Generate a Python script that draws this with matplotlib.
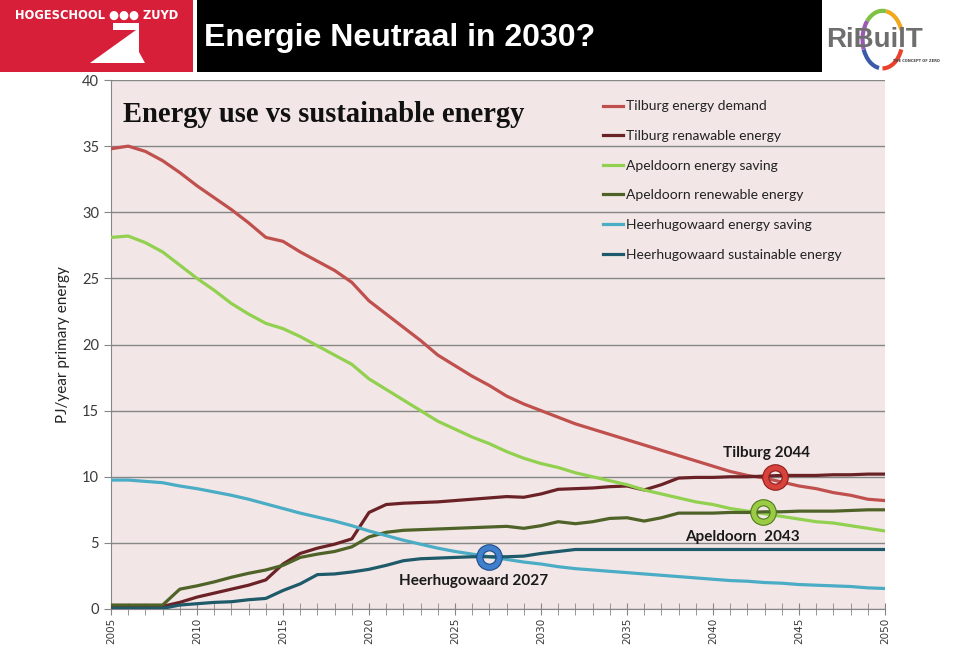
"""Energie Neutraal in 2030? - energy use vs sustainable energy (Tilburg, Apeldoorn, Heerhugowaard)."""

import matplotlib
matplotlib.use("Agg")
import matplotlib.pyplot as plt
from matplotlib.patches import Rectangle, Polygon, Arc

# ---- data (PJ/year primary energy), 2005..2050 ----
years = list(range(2005, 2051))

tilburg_demand = [34.8, 35.0, 34.6, 33.9, 33.0, 32.0, 31.1, 30.2, 29.2, 28.1,
                  27.8, 27.0, 26.3, 25.6, 24.7, 23.3, 22.3, 21.3, 20.3, 19.2,
                  18.4, 17.6, 16.9, 16.1, 15.5, 15.0, 14.5, 14.0, 13.6, 13.2,
                  12.8, 12.4, 12.0, 11.6, 11.2, 10.8, 10.4, 10.1, 9.9, 9.6,
                  9.3, 9.1, 8.8, 8.6, 8.3, 8.2]
tilburg_renewable = [0.15, 0.15, 0.15, 0.2, 0.5, 0.9, 1.2, 1.5, 1.8, 2.2,
                     3.4, 4.2, 4.6, 4.9, 5.3, 7.3, 7.9, 8.0, 8.05, 8.1,
                     8.2, 8.3, 8.4, 8.5, 8.45, 8.7, 9.05, 9.1, 9.15, 9.25,
                     9.3, 9.0, 9.4, 9.9, 9.95, 9.95, 10.0, 10.0, 10.05, 10.1,
                     10.1, 10.1, 10.15, 10.15, 10.2, 10.2]
apeldoorn_saving = [28.1, 28.2, 27.7, 27.0, 26.0, 25.0, 24.1, 23.1, 22.3, 21.6,
                    21.2, 20.6, 19.9, 19.2, 18.5, 17.4, 16.6, 15.8, 15.0, 14.2,
                    13.6, 13.0, 12.5, 11.9, 11.4, 11.0, 10.7, 10.3, 10.0, 9.7,
                    9.4, 9.0, 8.7, 8.4, 8.1, 7.9, 7.6, 7.4, 7.2, 7.0,
                    6.8, 6.6, 6.5, 6.3, 6.1, 5.9]
apeldoorn_renewable = [0.3, 0.3, 0.3, 0.3, 1.5, 1.75, 2.05, 2.4, 2.7, 2.95,
                       3.3, 3.9, 4.15, 4.35, 4.7, 5.45, 5.8, 5.95, 6.0, 6.05,
                       6.1, 6.15, 6.2, 6.25, 6.1, 6.3, 6.6, 6.45, 6.6, 6.85,
                       6.9, 6.65, 6.9, 7.25, 7.25, 7.25, 7.3, 7.3, 7.35, 7.35,
                       7.4, 7.4, 7.4, 7.45, 7.5, 7.5]
heerhugowaard_saving = [9.75, 9.75, 9.65, 9.55, 9.3, 9.1, 8.85, 8.6, 8.3, 7.95,
                        7.6, 7.25, 6.95, 6.65, 6.3, 5.9, 5.55, 5.2, 4.9, 4.6,
                        4.35, 4.15, 3.95, 3.75, 3.55, 3.4, 3.2, 3.05, 2.95, 2.85,
                        2.75, 2.65, 2.55, 2.45, 2.35, 2.25, 2.15, 2.1, 2.0, 1.95,
                        1.85, 1.8, 1.75, 1.7, 1.6, 1.55]
heerhugowaard_sustainable = [0.05, 0.05, 0.05, 0.05, 0.3, 0.4, 0.5, 0.55, 0.7, 0.8,
                             1.4, 1.9, 2.6, 2.65, 2.8, 3.0, 3.3, 3.65, 3.8, 3.85,
                             3.9, 3.95, 3.95, 3.95, 4.0, 4.2, 4.35, 4.5, 4.5, 4.5,
                             4.5, 4.5, 4.5, 4.5, 4.5, 4.5, 4.5, 4.5, 4.5, 4.5,
                             4.5, 4.5, 4.5, 4.5, 4.5, 4.5]

series_labels = ["Tilburg energy demand", "Tilburg renawable energy",
                 "Apeldoorn energy saving", "Apeldoorn renewable energy",
                 "Heerhugowaard energy saving", "Heerhugowaard sustainable energy"]
series_colors = ["#C0504D", "#6B2226", "#92D050", "#4F6228", "#4BACC6", "#1F5A6B"]

# break-even points: label, x, y
crossings = [("Tilburg 2044", 2043.6, 10.0), ("Apeldoorn  2043", 2042.9, 7.3),
             ("Heerhugowaard 2027", 2027.0, 3.95)]
ring_colors = [("#D8423C", "#8E1E1A"), ("#9BCB45", "#4E7A1A"), ("#3F7FCB", "#1D4C8A")]
crossing_label_pos = [(2043.1, 11.8), (2041.7, 5.45), (2026.1, 2.1)]

W, H = 960, 654


def fx(px):
    return px / W


def fy(py):
    return 1 - py / H


fig = plt.figure(figsize=(W / 100, H / 100), dpi=100)
fig.patch.set_facecolor("white")

# ---- header ----
fig.patches.append(Rectangle((0, fy(72)), fx(193), 72 / H, transform=fig.transFigure,
                             facecolor="#D71F3A", edgecolor="none"))
fig.patches.append(Rectangle((fx(197), fy(72)), fx(822 - 197), 72 / H, transform=fig.transFigure,
                             facecolor="black", edgecolor="none"))
fig.text(fx(15), fy(15), "HOGESCHOOL ●●● ZUYD", color="white", fontsize=8.3,
         fontweight="bold", family=["DejaVu Sans"], va="center", ha="left")
zpts = [(113, 23), (139, 23), (139, 52), (145, 63), (90, 63), (136, 30), (113, 30)]
fig.patches.append(Polygon([(fx(a), fy(b)) for a, b in zpts], closed=True,
                           transform=fig.transFigure, facecolor="white", edgecolor="none"))
fig.text(fx(204), fy(38), "Energie Neutraal in 2030?", color="white", fontsize=23,
         fontweight="bold", family="Liberation Sans", va="center", ha="left")

# RiBuilT logo (rough)
fig.text(fx(826), fy(40), "RiBuilT", color="#6E6E6E", fontsize=20, fontweight="bold",
         family="Liberation Sans", va="center", ha="left")
fig.text(fx(893), fy(61), "THE CONCEPT OF ZERO", color="#444444", fontsize=2.6,
         fontweight="bold", va="center", ha="left")
logo_ax = fig.add_axes([fx(855), fy(72), fx(50), 72 / H])
logo_ax.set_xlim(0, 1)
logo_ax.set_ylim(0, 1)
logo_ax.axis("off")
for th1, th2, col in [(20, 80, "#F2A81D"), (80, 140, "#7DC242"), (200, 260, "#3B5BA9"),
                      (270, 340, "#E8412C"), (140, 200, "#9B59B6")]:
    logo_ax.add_patch(Arc((0.55, 0.45), 0.8, 0.8, theta1=th1, theta2=th2, color=col, lw=3))

# ---- chart ----
ax = fig.add_axes([fx(111), fy(609), fx(885 - 111), (609 - 80) / H])
ax.set_facecolor("#F2E7E6")

all_series = [tilburg_demand, tilburg_renewable, apeldoorn_saving, apeldoorn_renewable,
              heerhugowaard_saving, heerhugowaard_sustainable]
for vals, lab, col in zip(all_series, series_labels, series_colors):
    ax.plot(years, vals, color=col, lw=2.3, label=lab, solid_joinstyle="round", zorder=3)

for (lab, cx, cy), (light, dark), (lx, ly) in zip(crossings, ring_colors, crossing_label_pos):
    ax.plot([cx], [cy], "o", ms=14, mfc="none", mec=dark, mew=5.2, zorder=5)
    ax.plot([cx], [cy], "o", ms=14, mfc="none", mec=light, mew=3.6, zorder=6)
    ax.text(lx, ly, lab, fontsize=11, fontweight="bold", family="Lato", color="#1A1A1A",
            ha="center", va="center", zorder=7)

ax.set_xlim(2005, 2050)
ax.set_ylim(0, 40)
ax.set_yticks(range(0, 41, 5))
ax.set_xticks(range(2005, 2051, 5))
ax.set_xticks(years, minor=True)
ax.grid(axis="y", color="#868686", lw=1.0, zorder=1)
ax.tick_params(axis="y", labelsize=10.5, labelcolor="#3A3A3A", color="#868686", length=5)
ax.tick_params(axis="x", which="both", direction="inout", length=8, color="#868686")
ax.tick_params(axis="x", which="major", labelsize=7.5, labelrotation=90, labelcolor="#3A3A3A", pad=2)
for lbl in ax.get_yticklabels():
    lbl.set_family("Lato")
for s in ["top", "right"]:
    ax.spines[s].set_visible(False)
for s in ["left", "bottom"]:
    ax.spines[s].set_color("#868686")

ax.set_ylabel("PJ/year primary energy", fontsize=11, family="Lato", color="#222222", labelpad=9)

ax.text(0.016, 0.935, "Energy use vs sustainable energy", transform=ax.transAxes,
        fontsize=20.6, fontweight="bold", family="Liberation Serif", color="#111111",
        ha="left", va="center")

ax.legend(loc="upper left", bbox_to_anchor=(0.62, 0.985), frameon=False,
          prop={"family": "Lato", "size": 10}, handlelength=1.4, handletextpad=0.2,
          labelspacing=1.27, labelcolor="#222222")

fig.savefig("out.png", dpi=100)
